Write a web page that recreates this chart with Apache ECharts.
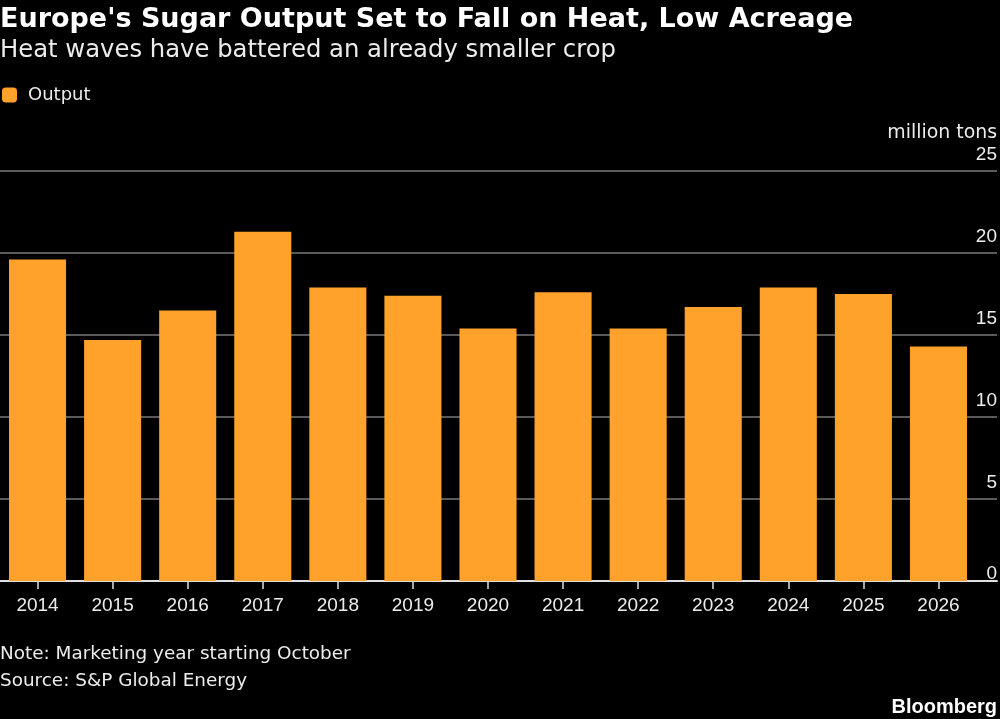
<!DOCTYPE html>
<html>
<head>
<meta charset="utf-8">
<script src="https://cdn.jsdelivr.net/npm/echarts@6/dist/echarts.min.js"></script>
<style>
  html, body { margin: 0; padding: 0; background: #000; }
  #chart { width: 1000px; height: 719px; }
</style>
</head>
<body>
<div id="chart"></div>
<script>
var years = ['2014', '2015', '2016', '2017', '2018', '2019', '2020', '2021', '2022', '2023', '2024', '2025', '2026'];
var output = [19.6, 14.7, 16.5, 21.3, 17.9, 17.4, 15.4, 17.6, 15.4, 16.7, 17.9, 17.5, 14.3];
var yTicks = [0, 5, 10, 15, 20, 25];

var font = '"Liberation Sans", Arial, sans-serif';
var wideFont = '"DejaVu Sans", sans-serif';
var textColor = '#ececec';

var chart = echarts.init(document.getElementById('chart'));

chart.setOption({
    backgroundColor: '#000',
    textStyle: { fontFamily: font },
    title: [
        {
            text: "Europe's Sugar Output Set to Fall on Heat, Low Acreage",
            left: 0, top: 6, padding: 0,
            textStyle: { color: '#fff', fontSize: 27, fontWeight: 'bold', fontFamily: wideFont }
        },
        {
            text: 'Heat waves have battered an already smaller crop',
            left: 0, top: 39, padding: 0,
            textStyle: { color: textColor, fontSize: 24.3, fontWeight: 'normal', fontFamily: wideFont }
        },
        {
            text: 'million tons',
            right: 3, top: 124, padding: 0,
            textStyle: { color: textColor, fontSize: 18.9, fontWeight: 'normal', fontFamily: wideFont }
        },
        {
            text: 'Note: Marketing year starting October',
            left: 0, top: 645, padding: 0,
            textStyle: { color: textColor, fontSize: 18.4, fontWeight: 'normal', fontFamily: wideFont }
        },
        {
            text: 'Source: S&P Global Energy',
            left: 0, top: 672, padding: 0,
            textStyle: { color: textColor, fontSize: 18.4, fontWeight: 'normal', fontFamily: wideFont }
        },
        {
            text: 'Bloomberg',
            right: 3, top: 697, padding: 0,
            textStyle: { color: '#fff', fontSize: 20, fontWeight: 'bold', fontFamily: font }
        }
    ],
    legend: {
        left: 2, top: 86, padding: 0,
        icon: 'roundRect',
        itemWidth: 15, itemHeight: 15,
        itemGap: 10,
        textStyle: { color: textColor, fontSize: 18, fontFamily: wideFont, padding: [0, 0, 0, 6] },
        data: ['Output']
    },
    grid: [
        { left: 0, right: 3, top: 171, bottom: 138 },
        { left: 0, right: 24, top: 171, bottom: 138 }
    ],
    xAxis: [
        {
            gridIndex: 0, type: 'value', min: 0, max: 1,
            axisLine: { show: true, lineStyle: { color: '#e0e0e0', width: 2 } },
            axisTick: { show: false }, axisLabel: { show: false }, splitLine: { show: false }
        },
        {
            gridIndex: 1, type: 'category', data: years,
            axisLine: { show: false },
            axisTick: { show: true, alignWithLabel: true, length: 8, lineStyle: { color: '#e0e0e0', width: 1.5 } },
            axisLabel: { color: textColor, fontSize: 19, margin: 15 }
        }
    ],
    yAxis: [
        {
            gridIndex: 0, type: 'value', position: 'right',
            min: 0, max: 25, interval: 5,
            axisLine: { show: false }, axisTick: { show: false },
            splitLine: { lineStyle: { color: '#5a5a5a', width: 2 } },
            axisLabel: {
                inside: true, margin: 0, verticalAlign: 'bottom',
                formatter: function (v) {
                    if (yTicks.indexOf(v) < 0) return '';
                    return v === 0 ? '{z|0}' : '{n|' + v + '}';
                },
                rich: {
                    n: { color: textColor, fontSize: 19, lineHeight: 19, padding: [0, 0, 13, 0] },
                    z: { color: textColor, fontSize: 19, lineHeight: 14 }
                }
            }
        },
        {
            gridIndex: 1, type: 'value', min: 0, max: 25, interval: 5, show: false
        }
    ],
    series: [
        {
            name: 'Output', type: 'bar',
            xAxisIndex: 1, yAxisIndex: 1,
            data: output,
            barCategoryGap: '24%',
            itemStyle: { color: '#ffa22b' },
            emphasis: { disabled: true }
        }
    ]
});

window.onresize = function () {
    chart.resize();
};
</script>
</body>
</html>
